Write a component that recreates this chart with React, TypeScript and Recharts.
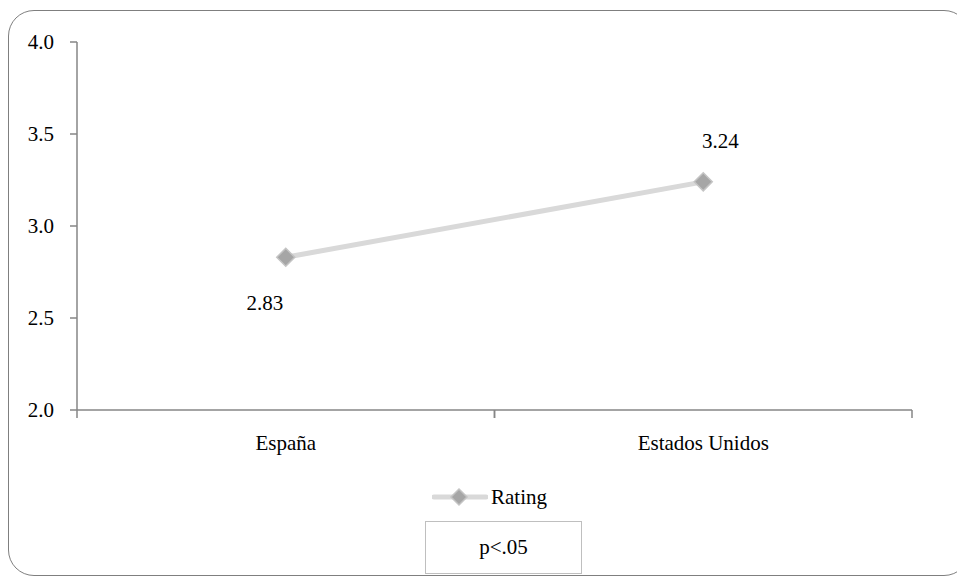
import React from "react";
import { LineChart, Line, XAxis, YAxis, LabelList } from "recharts";

const categories = ["España", "Estados Unidos"];
const ratingValues = [2.83, 3.24];
const yTicks = [2.0, 2.5, 3.0, 3.5, 4.0];
const seriesName = "Rating";
const noteText = "p<.05";

const data = categories.map((c, i) => ({ name: c, rating: ratingValues[i] }));

const W = 957;
const H = 582;
const PLOT_LEFT = 77;
const PLOT_RIGHT = 912;
const PLOT_TOP = 42;
const PLOT_BOTTOM = 410;
const Y_AXIS_W = 60;
const X_AXIS_H = 30;
const FONT = "Liberation Serif";
const AXIS_COLOR = "#868686";
const BAND = (PLOT_RIGHT - PLOT_LEFT) / categories.length;

const XTick = (props: any) => {
  const { x, y, payload } = props;
  return (
    <g>
      <line x1={x - BAND / 2} x2={x - BAND / 2} y1={y} y2={y + 8} stroke={AXIS_COLOR} strokeWidth={1.5} />
      <line x1={x + BAND / 2} x2={x + BAND / 2} y1={y} y2={y + 8} stroke={AXIS_COLOR} strokeWidth={1.5} />
      <text x={x} y={y + 40} textAnchor="middle" fontSize={21} fontFamily={FONT} fill="#000">
        {payload.value}
      </text>
    </g>
  );
};

const YTick = (props: any) => {
  const { x, y, payload } = props;
  return (
    <text x={x} y={y} dy={7} textAnchor="end" fontSize={21} fontFamily={FONT} fill="#000">
      {Number(payload.value).toFixed(1)}
    </text>
  );
};

const Diamond = (props: any) => {
  const { cx, cy } = props;
  if (cx == null || cy == null) return null;
  const r = 9;
  return (
    <polygon
      points={`${cx},${cy - r} ${cx + r},${cy} ${cx},${cy + r} ${cx - r},${cy}`}
      fill="#a6a6a6"
      stroke="#c4c4c4"
      strokeWidth={1.5}
    />
  );
};

const ValueLabel = (props: any) => {
  const { x, y, value, index } = props;
  const dx = index === 0 ? -21 : 17;
  const dy = index === 0 ? 53 : -34;
  return (
    <text x={x + dx} y={y + dy} textAnchor="middle" fontSize={21} fontFamily={FONT} fill="#000">
      {Number(value).toFixed(2)}
    </text>
  );
};

export default function App() {
  return (
    <div className="chart-root" style={{ position: "absolute", left: 0, top: 0, width: W, height: H, overflow: "hidden", background: "#fff" }}>
      <style>{`.chart-root, .chart-root * { font-family: "Liberation Serif", "Times New Roman", serif !important; }`}</style>
      <div
        style={{
          position: "absolute",
          left: 8,
          top: 10,
          width: 962,
          height: 566,
          border: "1.5px solid #7f7f7f",
          borderRadius: 26,
          boxSizing: "border-box",
        }}
      />
      <div style={{ position: "absolute", left: 0, top: 0 }}>
        <LineChart
          width={W}
          height={H}
          data={data}
          margin={{
            left: PLOT_LEFT - Y_AXIS_W,
            right: W - PLOT_RIGHT,
            top: PLOT_TOP,
            bottom: H - PLOT_BOTTOM - X_AXIS_H,
          }}
        >
          <XAxis
            dataKey="name"
            scale="band"
            height={X_AXIS_H}
            tickLine={false}
            tickSize={0}
            tickMargin={0}
            axisLine={{ stroke: AXIS_COLOR, strokeWidth: 1.5 }}
            tick={<XTick />}
            interval={0}
          />
          <YAxis
            width={Y_AXIS_W}
            domain={[2, 4]}
            ticks={yTicks}
            interval={0}
            tickSize={7}
            tickMargin={16}
            axisLine={{ stroke: AXIS_COLOR, strokeWidth: 1.5 }}
            tickLine={{ stroke: AXIS_COLOR, strokeWidth: 1.5 }}
            tick={<YTick />}
          />
          <Line
            type="linear"
            dataKey="rating"
            name={seriesName}
            stroke="#d9d9d9"
            strokeWidth={5}
            dot={<Diamond />}
            activeDot={false}
            isAnimationActive={false}
          >
            <LabelList dataKey="rating" content={<ValueLabel />} />
          </Line>
        </LineChart>
      </div>
      <div style={{ position: "absolute", left: 432, top: 484, height: 26, display: "flex", alignItems: "center" }}>
        <svg width={56} height={20} style={{ display: "block" }}>
          <line x1={2} x2={54} y1={10} y2={10} stroke="#d9d9d9" strokeWidth={5} strokeLinecap="round" />
          <polygon points="27,2 35,10 27,18 19,10" fill="#a6a6a6" stroke="#c4c4c4" strokeWidth={1.5} />
        </svg>
        <span style={{ fontFamily: FONT, fontSize: 21, color: "#000", marginLeft: 3, lineHeight: "26px" }}>{seriesName}</span>
      </div>
      <div
        style={{
          position: "absolute",
          left: 425,
          top: 521,
          width: 157,
          height: 53,
          border: "1.5px solid #bfbfbf",
          boxSizing: "border-box",
          display: "flex",
          alignItems: "center",
          justifyContent: "center",
          fontFamily: FONT,
          fontSize: 21,
          color: "#000",
        }}
      >
        {noteText}
      </div>
    </div>
  );
}
